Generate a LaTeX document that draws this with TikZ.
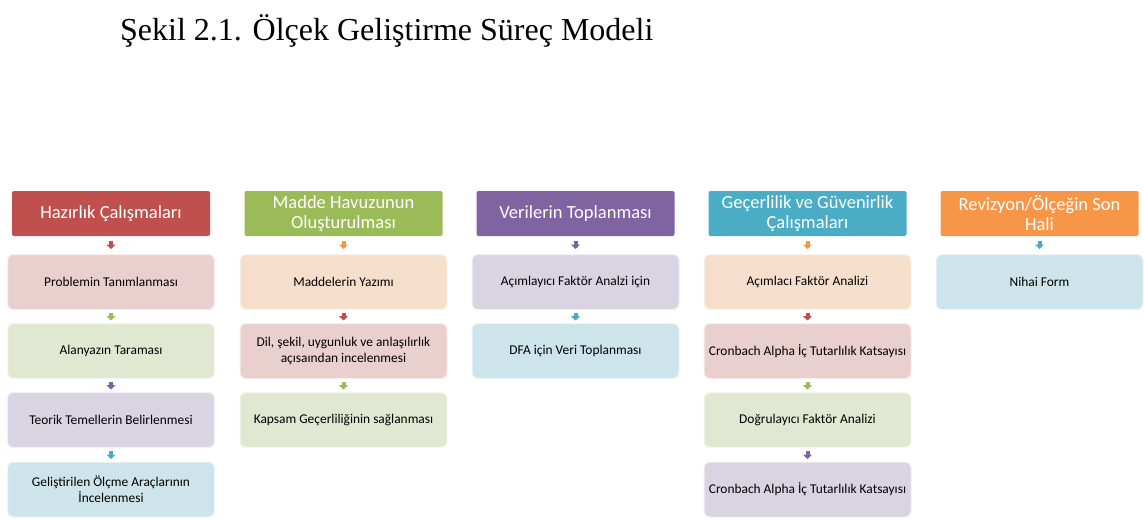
\documentclass[tikz,border=0pt]{standalone}
\usepackage{fontspec}
\setmainfont{Liberation Serif}
\newfontfamily\calibri{Carlito}
\usetikzlibrary{arrows.meta}

\definecolor{hred}{HTML}{C0504D}
\definecolor{hgreen}{HTML}{9BBB59}
\definecolor{hpurple}{HTML}{8064A2}
\definecolor{hteal}{HTML}{4BACC6}
\definecolor{horange}{HTML}{F79646}

\begin{document}
\begin{tikzpicture}[x=1pt,y=-1pt,
	header/.style={fill=#1, rounded corners=2pt, minimum width=198pt, minimum height=45pt,
		inner sep=0pt, align=center, text=white, font=\calibri\fontsize{18.5}{20}\selectfont},
	item/.style={fill=#1!24!white!97!black, draw=#1!10, line width=1pt, rounded corners=6pt,
		minimum width=207pt, minimum height=55pt, inner sep=0pt, align=center,
		font=\calibri\fontsize{13.4}{16}\selectfont},
	tinyarrow/.style={draw=#1, line width=4pt, -{Triangle[width=9pt,length=4.5pt]},
		shorten <=2.5pt, shorten >=2.5pt}]
	\useasboundingbox (0,0) rectangle (1144,520);
	
	%title
	\node[anchor=base west, font=\fontsize{32}{36}\selectfont, inner sep=0pt] (title) at (120,40)
		{Şekil 2.1. Ölçek Geliştirme Süreç Modeli};
	
	%headers
	\foreach \i/\x/\c/\t in {1/111/hred/{Hazırlık Çalışmaları},
		2/343.5/hgreen/{Madde Havuzunun\\Oluşturulması},
		3/575.5/hpurple/{Verilerin Toplanması},
		4/807.5/hteal/{Geçerlilik ve Güvenirlik\\Çalışmaları},
		5/1039.5/horange/{Revizyon/Ölçeğin Son\\Hali}}{
		\node[header=\c] (h\i) at (\x,213.5) {\t};}
	
	%column 1
	\node[item=hred] (p1) at (111,282) {Problemin Tanımlanması};
	\node[item=hgreen] (p2) at (111,351) {Alanyazın Taraması};
	\node[item=hpurple] (p3) at (111,420) {Teorik Temellerin Belirlenmesi};
	\node[item=hteal] (p4) at (111,489.5) {Geliştirilen Ölçme Araçlarının\\İncelenmesi};
	
	%column 2
	\node[item=horange] (m1) at (343.5,282) {Maddelerin Yazımı};
	\node[item=hred] (m2) at (343.5,351) {Dil, şekil, uygunluk ve anlaşılırlık\\açısaından incelenmesi};
	\node[item=hgreen] (m3) at (343.5,420) {Kapsam Geçerliliğinin sağlanması};
	
	%column 3
	\node[item=hpurple] (v1) at (575.5,282) {Açımlayıcı Faktör Analzi için};
	\node[item=hteal] (v2) at (575.5,351) {DFA için Veri Toplanması};
	
	%column 4
	\node[item=horange] (g1) at (807.5,282) {Açımlacı Faktör Analizi};
	\node[item=hred] (g2) at (807.5,351) {Cronbach Alpha İç Tutarlılık Katsayısı};
	\node[item=hgreen] (g3) at (807.5,420) {Doğrulayıcı Faktör Analizi};
	\node[item=hpurple] (g4) at (807.5,489.5) {Cronbach Alpha İç Tutarlılık Katsayısı};
	
	%column 5
	\node[item=hteal] (r1) at (1039.5,282) {Nihai Form};
	
	%header arrows
	\foreach \a/\b/\c in {h1/p1/hred, h2/m1/horange, h3/v1/hpurple, h4/g1/horange, h5/r1/hteal}{
		\draw[tinyarrow=\c, shorten <=5pt, shorten >=5pt] (\a) -- (\b);}
	
	%arrows between items
	\foreach \a/\b/\c in {p1/p2/hgreen, p2/p3/hpurple, p3/p4/hteal,
		m1/m2/hred, m2/m3/hgreen, v1/v2/hteal,
		g1/g2/hred, g2/g3/hgreen, g3/g4/hpurple}{
		\draw[tinyarrow=\c] (\a) -- (\b);}
\end{tikzpicture}
\end{document}
